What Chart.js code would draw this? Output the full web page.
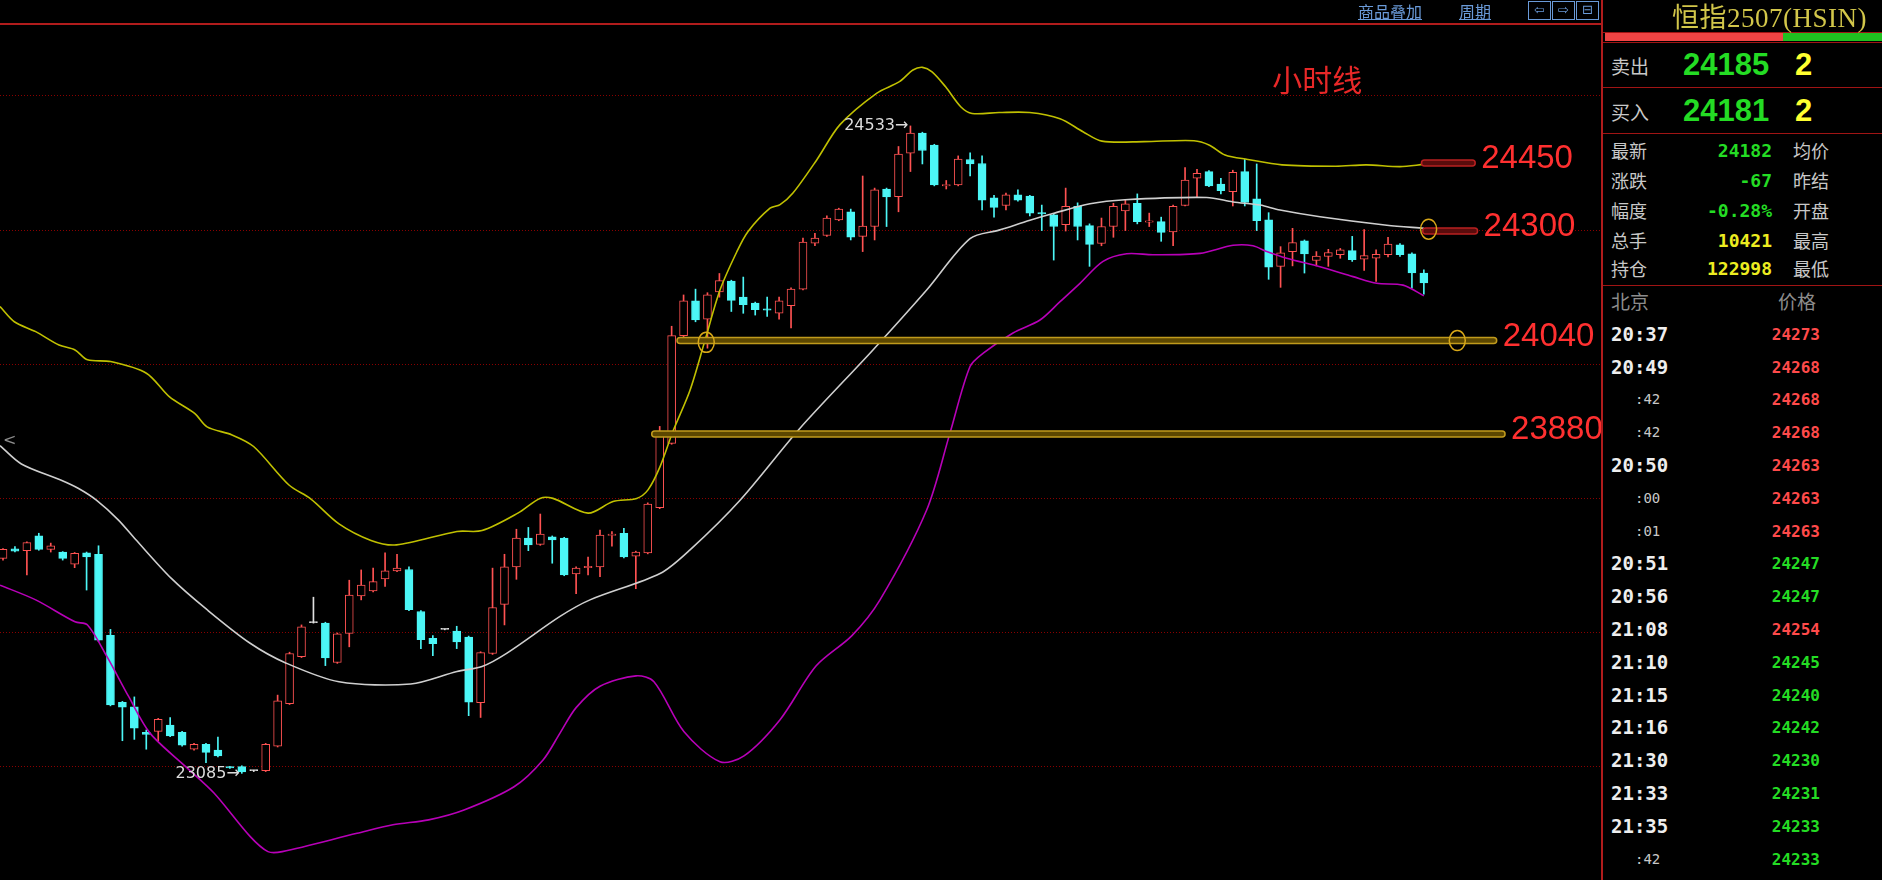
<!DOCTYPE html>
<html>
<head>
<meta charset="utf-8">
<script src="https://cdn.jsdelivr.net/npm/chart.js@4.4.1/dist/chart.umd.min.js"></script>
<style>
body { margin:0; background:#000; width:1882px; height:880px; overflow:hidden; position:relative; font-family:"Noto Sans CJK SC", sans-serif; }
#wrap { position:absolute; left:0; top:0; width:1602px; height:880px; }
.t { position:absolute; white-space:nowrap; line-height:1; }
.ln { position:absolute; background:#a01414; }
.box { position:absolute; border:1px solid #6a9ad8; color:#6a9ad8; font:13px "DejaVu Sans"; text-align:center; line-height:16px; }
</style>
</head>
<body>
<div id="wrap"><canvas id="kline"></canvas></div>
<script>
// hourly candles, oldest first
let opens  = [23566,23587,23583,23616,23586,23580,23553,23578,23575,23394,23244,23234,23177,23179,23193,23177,23139,23150,23137,23100,
              23100,23091,23091,23146,23241,23346,23422,23421,23333,23398,23482,23493,23520,23538,23541,23447,23387,23407,23403,23390,
              23243,23353,23463,23547,23611,23597,23614,23611,23531,23545,23547,23617,23622,23571,23578,23679,23823,24064,24142,24101,
              24162,24186,24150,24137,24124,24114,24131,24168,24271,24288,24323,24341,24286,24308,24392,24375,24472,24517,24490,24399,
              24401,24458,24449,24372,24355,24379,24376,24339,24334,24312,24353,24310,24270,24308,24343,24360,24318,24319,24296,24355,
              24416,24431,24403,24386,24431,24370,24323,24219,24252,24276,24232,24241,24245,24254,24235,24237,24245,24267,24247,24204];
let highs  = [23588,23592,23603,23622,23600,23581,23579,23580,23594,23407,23246,23256,23182,23208,23210,23179,23152,23152,23166,23101,
              23102,23092,23152,23260,23356,23417,23479,23423,23399,23517,23540,23544,23578,23575,23547,23449,23393,23408,23414,23392,
              23357,23544,23575,23631,23635,23665,23616,23613,23547,23569,23629,23626,23633,23582,23690,23861,24085,24155,24168,24160,
              24203,24188,24195,24139,24150,24150,24171,24282,24293,24332,24349,24347,24421,24394,24394,24487,24533,24519,24492,24411,
              24466,24473,24466,24378,24383,24390,24378,24356,24336,24394,24361,24314,24327,24360,24368,24381,24338,24329,24356,24440,
              24436,24433,24416,24434,24458,24448,24339,24263,24304,24278,24252,24257,24259,24286,24301,24256,24284,24270,24249,24211];
let lows   = [23562,23580,23529,23584,23580,23562,23545,23495,23380,23236,23158,23161,23139,23158,23167,23146,23137,23109,23122,23096,
              23085,23089,23089,23144,23239,23344,23421,23326,23331,23368,23473,23491,23503,23536,23449,23364,23348,23406,23364,23214,
              23210,23351,23417,23519,23583,23595,23555,23527,23487,23529,23525,23593,23567,23498,23576,23677,23821,24050,24095,24036,
              24150,24118,24114,24110,24107,24101,24081,24166,24265,24286,24321,24278,24252,24278,24308,24341,24431,24448,24399,24392,
              24399,24421,24345,24329,24345,24365,24332,24299,24233,24298,24278,24219,24265,24284,24299,24314,24308,24275,24265,24354,
              24375,24397,24381,24354,24354,24299,24190,24172,24220,24204,24220,24219,24237,24230,24210,24185,24240,24241,24170,24157];
let closes = [23586,23582,23601,23586,23594,23566,23577,23569,23383,23238,23233,23186,23172,23206,23169,23148,23150,23132,23124,23097,
              23088,23091,23150,23247,23353,23413,23422,23343,23397,23484,23506,23514,23538,23544,23451,23384,23375,23407,23379,23244,
              23355,23456,23547,23611,23596,23620,23607,23529,23544,23548,23618,23620,23569,23580,23687,23840,24064,24142,24099,24155,
              24187,24143,24133,24122,24121,24142,24168,24273,24282,24327,24347,24284,24309,24390,24374,24470,24517,24478,24401,24402,
              24459,24448,24367,24351,24379,24367,24338,24336,24308,24353,24308,24268,24308,24353,24359,24319,24321,24295,24353,24412,
              24427,24399,24388,24429,24362,24321,24217,24249,24272,24247,24242,24250,24256,24234,24243,24246,24269,24245,24204,24182];

// bollinger lines (x in candle index units)
let upperX = [-0.25,0.95,2.74,4.69,6.03,7.08,9.02,12.01,13.95,16.05,17.09,19.18,20.99,23.95,25.77,28.14,30.82,32.95,38.02,40.12,
              43.12,44.97,46.06,49.0,51.09,53.07,54.02,55.03,56.11,57.54,58.8,60.05,61.45,62.4,64.24,65.08,66.16,68.15,70.1,73.16,
              75.08,76.21,77.01,77.81,78.93,80.21,81.16,83.42,85.98,88.53,90.45,92.04,95.56,99.75,101.05,102.35,104.26,107.12,111.62,114.19,
              117.0,119.0];
let upperY = [24129,24095,24073,24043,24032,24010,24006,23980,23927,23890,23860,23842,23816,23730,23699,23643,23606,23596,23626,23628,
              23667,23700,23700,23667,23693,23700,23719,23771,23850,23942,24054,24166,24251,24297,24349,24357,24383,24457,24536,24606,
              24632,24658,24664,24654,24621,24576,24561,24563,24563,24549,24520,24499,24498,24500,24490,24468,24458,24446,24443,24446,
              24442,24447];
let midX = [-0.25,1.54,4.83,6.33,7.82,9.65,11.11,14.1,17.09,20.7,23.68,28.14,34.15,38.02,40.12,42.21,46.65,49.16,55.03,57.54,
            61.73,66.75,72.86,77.36,80.99,83.42,86.01,87.94,91.04,93.97,100.81,103.02,105.28,106.95,110.3,115.9,119.0];
let midY = [23818,23777,23741,23722,23696,23652,23608,23521,23451,23376,23332,23290,23285,23313,23324,23354,23436,23473,23532,23585,
            23696,23857,24032,24166,24281,24300,24322,24337,24359,24368,24373,24363,24356,24345,24330,24311,24304];
let lowX = [-0.25,2.74,6.03,7.08,8.71,10.52,12.31,15.3,17.67,20.69,22.19,23.39,29.65,32.66,35.65,38.61,42.8,45.23,46.65,48.0,
            50.0,53.02,54.52,57.04,60.05,62.06,65.08,68.09,71.1,73.45,77.36,79.31,80.99,82.1,84.59,86.85,88.53,90.2,92.13,94.11,
            96.31,100.25,103.02,104.69,105.84,107.51,110.3,113.07,115.05,117.26,119.0];
let lowY = [23506,23473,23424,23417,23346,23257,23175,23100,23041,22944,22910,22910,22951,22970,22981,23003,23055,23115,23175,23232,
            23280,23303,23290,23178,23111,23124,23205,23325,23393,23473,23674,23846,23995,24025,24070,24099,24140,24181,24230,24247,
            24245,24248,24266,24265,24252,24237,24218,24196,24181,24177,24153];

let gridTicks = [23100,23400,23700,24000,24300,24600];

// hand drawn marks on the chart
let levelText = ['24450','24300','24040','23880'];
let levelAt   = [24450,24298,24053,23844];
let levelFrom = [118.8,118.9,56.45,54.33];
let levelTo   = [123.3,123.5,125.1,125.8];
let ringX = [119.4,121.8,58.9];
let ringY = [24302,24053,24049];

// right panel
let symbol = '恒指2507(HSIN)';
let askPrice = 24185, askVol = 2, bidPrice = 24181, bidVol = 2;
let quoteNames = ['最新','涨跌','幅度','总手','持仓'];
let quoteVals  = ['24182','-67','-0.28%','10421','122998'];
let quoteNames2 = ['均价','昨结','开盘','最高','最低'];
let tradeTimes  = ['20:37','20:49',':42',':42','20:50',':00',':01','20:51','20:56','21:08','21:10','21:15','21:16','21:30','21:33','21:35',':42'];
let tradePrices = [24273,24268,24268,24268,24263,24263,24263,24247,24247,24254,24245,24240,24242,24230,24231,24233,24233];
let prevSettle = 24182 + 67;

const RED = '#ff5252';
const CYAN = '#4cf6f6';
const GREEN = '#24dc24';

function candleColor(i) {
    if (closes[i] > opens[i]) return RED;
    if (closes[i] < opens[i]) return CYAN;
    return '#e0e0e0';
}

let idx = opens.map((v, i) => i);
let lowIdx = lows.indexOf(Math.min(...lows));
let highIdx = highs.indexOf(Math.max(...highs));

function pts(xs, ys) { return xs.map((x, k) => ({x: x, y: ys[k]})); }

function capsule(ctx, x1, x2, yc, h, fill, stroke) {
    let r = h / 2;
    ctx.beginPath();
    ctx.moveTo(x1 + r, yc - r);
    ctx.lineTo(x2 - r, yc - r);
    ctx.arc(x2 - r, yc, r, -Math.PI / 2, Math.PI / 2);
    ctx.lineTo(x1 + r, yc + r);
    ctx.arc(x1 + r, yc, r, Math.PI / 2, Math.PI * 1.5);
    ctx.closePath();
    ctx.fillStyle = fill;
    ctx.fill();
    ctx.lineWidth = 1.5;
    ctx.strokeStyle = stroke;
    ctx.stroke();
}

const annoPlugin = {
    id: 'anno',
    afterDatasetsDraw(chart) {
        const ctx = chart.ctx;
        const xs = chart.scales.x, ys = chart.scales.y;
        ctx.save();
        ctx.textBaseline = 'middle';
        for (let k = 0; k < levelText.length; k++) {
            let x1 = xs.getPixelForValue(levelFrom[k]);
            let x2 = xs.getPixelForValue(levelTo[k]);
            let yc = ys.getPixelForValue(levelAt[k]);
            if (k < 2) capsule(ctx, x1, x2, yc, 6, '#5a0c0c', '#b82020');
            else capsule(ctx, x1, x2, yc, 6, '#5c4700', '#c09a1c');
            ctx.font = '33px "Liberation Sans"';
            ctx.fillStyle = '#ff3030';
            ctx.textAlign = 'left';
            ctx.fillText(levelText[k], x2 + 6, yc - 4);
        }
        ctx.strokeStyle = '#d8a818';
        ctx.lineWidth = 1.5;
        for (let k = 0; k < ringX.length; k++) {
            ctx.beginPath();
            ctx.ellipse(xs.getPixelForValue(ringX[k]), ys.getPixelForValue(ringY[k]), 8, 10, 0, 0, Math.PI * 2);
            ctx.stroke();
        }
        // high / low markers
        ctx.font = '16px "DejaVu Sans"';
        ctx.fillStyle = '#dcdcdc';
        ctx.textAlign = 'right';
        ctx.fillText(highs[highIdx] + '→', xs.getPixelForValue(highIdx) - 2, ys.getPixelForValue(highs[highIdx]));
        ctx.fillText(lows[lowIdx] + '→', xs.getPixelForValue(lowIdx) - 2, ys.getPixelForValue(lows[lowIdx]));
        ctx.font = '30px "Noto Sans CJK SC"';
        ctx.fillStyle = '#e82828';
        ctx.textAlign = 'left';
        ctx.fillText('小时线', xs.getPixelForValue(106.3), ys.getPixelForValue(24636));
        ctx.font = '16px "DejaVu Sans"';
        ctx.fillStyle = '#8c8c8c';
        ctx.fillText('<', chart.chartArea.left + 3, ys.getPixelForValue(23828));
        ctx.restore();
    }
};

new Chart(document.getElementById('kline'), {
    type: 'bar',
    data: {
        datasets: [
            { type: 'line', data: pts(upperX, upperY), borderColor: '#c0c000', borderWidth: 1.6, pointRadius: 0, tension: 0.3, order: 0 },
            { type: 'line', data: pts(midX, midY), borderColor: '#cfcfcf', borderWidth: 1.6, pointRadius: 0, tension: 0.3, order: 0 },
            { type: 'line', data: pts(lowX, lowY), borderColor: '#b800b8', borderWidth: 1.6, pointRadius: 0, tension: 0.3, order: 0 },
            {
                data: idx.map(i => ({x: i, y: [opens[i], closes[i]]})),
                backgroundColor: idx.map(i => closes[i] > opens[i] ? '#000' : candleColor(i)),
                borderColor: idx.map(candleColor),
                borderWidth: 1, borderSkipped: false, barThickness: 8, minBarLength: 1, grouped: false, order: 1
            },
            {
                data: idx.map(i => ({x: i, y: [lows[i], highs[i]]})),
                backgroundColor: idx.map(candleColor),
                barThickness: 1, grouped: false, order: 2
            }
        ]
    },
    options: {
        responsive: true,
        maintainAspectRatio: false,
        animation: false,
        layout: { padding: { top: 24, left: 0, right: 0, bottom: 0 } },
        plugins: { legend: { display: false }, tooltip: { enabled: false } },
        scales: {
            x: { type: 'linear', display: false, offset: false, min: -0.2513, max: 133.92 },
            y: {
                min: 22846.5, max: 24761,
                afterBuildTicks: s => { s.ticks = gridTicks.map(v => ({value: v})); },
                afterFit: s => { s.width = 0; },
                ticks: { display: false },
                grid: { color: '#8a0000', lineWidth: 1, drawTicks: false },
                border: { display: false, dash: [1, 2] }
            }
        }
    },
    plugins: [annoPlugin]
});

// ---- page furniture and quote panel ----
function put(txt, x, y, font, color, right) {
    let d = document.createElement('div');
    d.className = 't';
    d.textContent = txt;
    d.style.left = x + 'px';
    d.style.top = y + 'px';
    d.style.font = font;
    d.style.color = color;
    d.style.transform = right ? 'translate(-100%,-50%)' : 'translateY(-50%)';
    document.body.appendChild(d);
    return d;
}
function line(x, y, w, h, c) {
    let d = document.createElement('div');
    d.className = 'ln';
    d.style.left = x + 'px'; d.style.top = y + 'px';
    d.style.width = w + 'px'; d.style.height = h + 'px';
    if (c) d.style.background = c;
    document.body.appendChild(d);
}

line(0, 23, 1602, 2, '#b01c1c');
line(1601, 0, 2, 880, '#b01c1c');
line(1603, 32, 279, 1);
line(1605, 33, 178, 8, '#f04444');
line(1783, 33, 99, 8, '#20c020');
line(1603, 42, 279, 1);
line(1603, 87, 279, 1);
line(1603, 133, 279, 1);
line(1603, 285, 279, 1);

let link1 = put('商品叠加', 1358, 11, '16px "Noto Sans CJK SC"', '#6a9ad8');
link1.style.textDecoration = 'underline';
let link2 = put('周期', 1459, 11, '16px "Noto Sans CJK SC"', '#6a9ad8');
link2.style.textDecoration = 'underline';
['⇦', '⇨', '⊟'].forEach((g, k) => {
    let b = document.createElement('div');
    b.className = 'box';
    b.textContent = g;
    b.style.left = (1528 + k * 24) + 'px';
    b.style.top = '1px';
    b.style.width = '21px';
    b.style.height = '17px';
    document.body.appendChild(b);
});

let title = put(symbol, 1672, 15, '27px "Liberation Serif", "Noto Sans CJK SC"', '#d2c64a');
title.style.letterSpacing = '0.5px';

put('卖出', 1611, 65, '19px "Noto Sans CJK SC"', '#c8c8c8');
put(String(askPrice), 1683, 65, 'bold 31px "Liberation Sans"', GREEN);
put(String(askVol), 1795, 65, 'bold 31px "Liberation Sans"', '#ffff30');
put('买入', 1611, 111, '19px "Noto Sans CJK SC"', '#c8c8c8');
put(String(bidPrice), 1683, 111, 'bold 31px "Liberation Sans"', GREEN);
put(String(bidVol), 1795, 111, 'bold 31px "Liberation Sans"', '#ffff30');

let rowY = [150, 180, 210, 239.5, 268];
for (let k = 0; k < quoteNames.length; k++) {
    put(quoteNames[k], 1611, rowY[k], '18px "Noto Sans CJK SC"', '#c8c8c8');
    put(quoteVals[k], 1772, rowY[k], 'bold 18px "DejaVu Sans Mono"', k < 3 ? GREEN : '#ecec20', true);
    put(quoteNames2[k], 1793, rowY[k], '18px "Noto Sans CJK SC"', '#c8c8c8');
}

put('北京', 1611, 300, '19px "Noto Sans CJK SC"', '#8c8c8c');
put('价格', 1816, 300, '19px "Noto Sans CJK SC"', '#8c8c8c', true);
for (let k = 0; k < tradeTimes.length; k++) {
    let y = 333.7 + k * 32.8;
    if (tradeTimes[k][0] === ':') put(tradeTimes[k], 1635, y, '14px "DejaVu Sans Mono"', '#c8c8c8');
    else put(tradeTimes[k], 1611, y, 'bold 19px "DejaVu Sans Mono"', '#eeeeee');
    put(String(tradePrices[k]), 1820, y, 'bold 16px "DejaVu Sans Mono"', tradePrices[k] > prevSettle ? '#ff4a4a' : GREEN, true);
}
</script>
</body>
</html>
